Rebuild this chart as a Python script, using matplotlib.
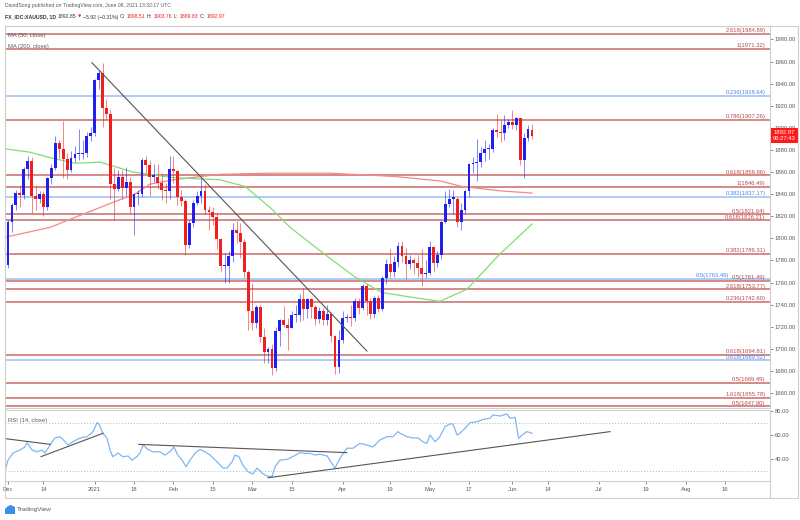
import matplotlib
matplotlib.use('Agg')
import matplotlib.pyplot as plt
from matplotlib.patches import Rectangle, Polygon
from matplotlib.transforms import offset_copy
import numpy as np

plt.rcParams['font.family'] = ['Liberation Sans', 'DejaVu Sans']

# XAUUSD daily candles, Dec 1 2020 .. Jun 8 2021 (bar index 0..133)
opens = [
    1776, 1815, 1830, 1841, 1839, 1863, 1870, 1838, 1836, 1840, 1828, 1855, 1864, 1886, 1881, 1872, 1862, 1873, 1876, 1876, 1877, 1893,
    1895, 1943, 1950, 1918, 1913, 1849, 1845, 1856, 1846, 1851, 1828, 1840, 1840, 1871, 1866, 1856, 1856, 1850, 1844, 1843,
    1863, 1861, 1837, 1834, 1794, 1814, 1832, 1838, 1843, 1826, 1824, 1819, 1799, 1775, 1775, 1784, 1808, 1805, 1797, 1770,
    1734, 1723, 1738, 1711, 1697, 1700, 1683, 1716, 1726, 1722, 1719, 1731, 1731, 1745, 1736, 1745, 1738, 1727, 1734, 1726, 1732, 1712, 1684,
    1708, 1728, 1729, 1728, 1743, 1737, 1757, 1743, 1732, 1746, 1736, 1764, 1777, 1770, 1779, 1793, 1784, 1777, 1780, 1778, 1773, 1768,
    1769, 1792, 1778, 1785, 1815, 1831, 1836, 1836, 1815, 1826, 1843, 1867, 1868, 1869, 1877, 1881, 1881, 1898, 1896, 1895, 1903,
    1905, 1903, 1909, 1871, 1891, 1898.51]
highs = [
    1817, 1832, 1844, 1848, 1865, 1875, 1874, 1848, 1843, 1843, 1856, 1867, 1893, 1889, 1906, 1877, 1879, 1884, 1899, 1889, 1896, 1901,
    1944, 1952, 1959, 1926, 1917, 1864, 1862, 1862, 1865, 1856, 1841, 1844, 1873, 1875, 1871, 1867, 1867, 1859, 1850, 1875,
    1875, 1862, 1844, 1836, 1817, 1835, 1843, 1855, 1849, 1829, 1828, 1823, 1800, 1787, 1789, 1814, 1816, 1814, 1799, 1771,
    1760, 1740, 1740, 1719, 1702, 1704, 1720, 1727, 1739, 1728, 1734, 1740, 1750, 1755, 1746, 1746, 1740, 1738, 1737, 1740, 1733, 1713, 1717,
    1734, 1732, 1740, 1746, 1746, 1759, 1759, 1746, 1748, 1749, 1766, 1781, 1790, 1784, 1797, 1798, 1791, 1785, 1782, 1785, 1790, 1780,
    1798, 1793, 1789, 1817, 1843, 1845, 1844, 1837, 1832, 1845, 1868, 1874, 1890, 1883, 1889, 1885, 1900, 1913, 1907, 1912, 1908,
    1916, 1910, 1909, 1895, 1903, 1903.76]
lows = [
    1773, 1806, 1826, 1828, 1836, 1854, 1823, 1826, 1832, 1820, 1826, 1849, 1862, 1873, 1855, 1854, 1860, 1869, 1871, 1872, 1874, 1888,
    1893, 1935, 1901, 1908, 1836, 1817, 1843, 1836, 1838, 1823, 1803, 1830, 1837, 1859, 1838, 1851, 1845, 1835, 1832, 1836,
    1850, 1830, 1829, 1785, 1791, 1810, 1830, 1832, 1822, 1808, 1812, 1790, 1770, 1760, 1760, 1779, 1796, 1782, 1764, 1717,
    1717, 1719, 1706, 1687, 1687, 1676, 1680, 1703, 1720, 1699, 1719, 1724, 1725, 1726, 1728, 1728, 1722, 1723, 1722, 1722, 1706, 1677, 1678,
    1705, 1724, 1721, 1725, 1732, 1735, 1731, 1727, 1728, 1733, 1734, 1759, 1764, 1765, 1774, 1779, 1763, 1772, 1768, 1765, 1757, 1764,
    1767, 1770, 1774, 1781, 1814, 1828, 1822, 1810, 1808, 1822, 1837, 1859, 1852, 1865, 1870, 1872, 1878, 1892, 1887, 1889, 1900,
    1899, 1898, 1866, 1855, 1888, 1889.83]
closes = [
    1815, 1830, 1841, 1839, 1863, 1870, 1838, 1836, 1840, 1828, 1855, 1864, 1886, 1881, 1872, 1862, 1873, 1876, 1876, 1877, 1893, 1895,
    1943, 1950, 1918, 1913, 1849, 1845, 1856, 1846, 1851, 1828, 1840, 1840, 1871, 1866, 1856, 1856, 1850, 1844, 1843, 1863,
    1861, 1837, 1834, 1794, 1814, 1832, 1838, 1843, 1826, 1824, 1819, 1799, 1775, 1775, 1784, 1808, 1805, 1797, 1770, 1734,
    1723, 1738, 1711, 1697, 1700, 1683, 1716, 1726, 1722, 1719, 1731, 1731, 1745, 1736, 1745, 1738, 1727, 1734, 1726, 1732, 1712, 1684, 1708,
    1728, 1729, 1728, 1743, 1737, 1757, 1743, 1732, 1746, 1736, 1764, 1777, 1770, 1779, 1793, 1784, 1777, 1780, 1778, 1773, 1768, 1769,
    1792, 1778, 1785, 1815, 1831, 1836, 1836, 1815, 1826, 1843, 1867, 1868, 1869, 1877, 1881, 1881, 1898, 1896, 1895, 1903, 1905,
    1903, 1909, 1871, 1891, 1899, 1892.97]

# moving averages (bar index, price)
ma50_x = [-0.8, 5.6, 10.7, 17, 23.4, 31.7, 41.9, 53.8, 60.2, 66.5, 71.6, 76.6, 81.7, 88.1, 94.9, 102, 109.6, 116.5, 124.9, 133]
ma50_y = [1881, 1878, 1873, 1868, 1869, 1860, 1855, 1853, 1847, 1828, 1810, 1796, 1782, 1765, 1751, 1747, 1743, 1754, 1786, 1813]
ma200_x = [-0.8, 10.7, 17, 23.4, 28.4, 32.2, 36, 41.9, 53.8, 66.5, 81.7, 98.2, 109.6, 115.2, 124.9, 133]
ma200_y = [1801, 1810, 1819, 1828, 1835, 1840, 1849, 1853, 1858, 1859, 1859, 1856, 1852, 1847, 1843, 1841]

# RSI(14)
rsi_x = [-0.8, 0, 1.3, 3.0, 4.3, 4.8, 6.1, 7.4, 8.6, 9.4, 10.7, 11.9, 13.2, 14.5, 15.2, 16.5, 18.3, 20.1, 21.6, 22.6,
         23.1, 24.1, 25.1, 25.9, 26.6, 27.9, 29.2, 30.5, 31.5, 32.7, 33.5, 34.3, 35.5, 36.8, 38.6, 39.8, 41.1, 42.1,
         43.1, 44.2, 45.2, 46.2, 47.5, 48.7, 50.0, 51.3, 53.0, 54.6, 55.6, 56.9, 57.6, 58.6, 59.6, 60.9, 62.2, 63.2,
         64.5, 65.7, 67.0, 67.8, 69.0, 70.8, 72.3, 74.1, 75.4, 76.6, 77.9, 79.2, 81.0, 82.2, 83.0, 84.3, 86.0, 87.6,
         89.3, 91.1, 92.6, 94.4, 96.2, 97.7, 99.0, 99.5, 101.3, 102.8, 104.1, 105.3, 106.3, 107.1, 108.4, 109.6, 110.9,
         112.2, 112.9, 114.0, 114.7, 116.0, 117.3, 119.0, 120.6, 122.3, 123.1, 124.9, 126.6, 127.4, 128.7, 129.6, 130.5,
         131.7, 133.0]
rsi_vals = [29.4, 39, 45, 47.5, 50, 53.6, 47.5, 46, 47.5, 45, 51.7, 57.5, 58.6, 54.4, 51.7, 54.4, 57.5, 58.6, 62.8, 70.3,
            69, 61.4, 57.5, 47.5, 41.9, 45, 41.9, 42.5, 39, 42, 45, 51.7, 48, 46, 46, 43.3, 46, 50,
            43.3, 39, 33.6, 39, 45, 48, 46, 43.3, 37.8, 32.5, 32.5, 37.8, 43.3, 42, 35, 29.4, 27.5, 32.5,
            28.3, 25.8, 25.3, 33.6, 39, 39.7, 42, 45.3, 44.7, 44.7, 43.3, 44, 42.5, 36.4, 32.5, 40.8, 49, 49,
            53, 51.7, 50, 55.8, 58.6, 58.6, 62.8, 61.4, 58.6, 57.5, 57.5, 54.4, 53, 60, 54.4, 58.6, 66.9,
            69.2, 69.2, 60, 61.4, 65.6, 70.3, 71, 73, 73.9, 76.7, 75.8, 77.5, 73.9, 74.7, 57.2, 60,
            62.8, 61.4]

# fibonacci levels drawn on the chart
fib_labels = ['2.618(1984.89)', '1(1971.32)', '0.236(1928.64)', '0.786(1907.26)', '0.618(1856.96)', '1(1846.49)',
              '0.382(1837.17)', '0.5(1821.64)', '0.618(1816.21)', '0.382(1786.31)', '0.5(1763.49)', '0.5(1761.49)',
              '2.618(1753.77)', '0.236(1742.60)', '0.618(1694.81)', '0.618(1689.52)', '0.5(1669.49)',
              '1.618(1655.78)', '0.5(1647.90)']
fib_values = [1984.89, 1971.32, 1928.64, 1907.26, 1856.96, 1846.49, 1837.17, 1821.64, 1816.21, 1786.31, 1763.49,
              1761.49, 1753.77, 1742.60, 1694.81, 1689.52, 1669.49, 1655.78, 1647.90]
fib_kind = ['r', 'r', 'b', 'r', 'r', 'r', 'b', 'r', 'r', 'r', 'b', 'r', 'r', 'r', 'r', 'b', 'r', 'r', 'r']

# hand drawn trendlines (bar index, value)
price_trend = [(21.3, 1959), (91.1, 1698)]
rsi_trends = [[(-0.8, 57), (10.7, 52.2)], [(8.4, 42), (24.1, 61.4)],
              [(33.2, 52.2), (86.0, 45.3)], [(66.0, 24.4), (152.8, 62.8)]]

tick_pos = [0, 9, 22, 32, 42, 52, 62, 72, 85, 97, 107, 117, 128, 137, 150, 162, 172, 182]
tick_labels = ['Dec', '14', '2021', '18', 'Feb', '15', 'Mar', '15', 'Apr', '19', 'May', '17', 'Jun', '14',
               'Jul', '19', 'Aug', '16']

# header legend pieces
header_parts = [('FX_IDC:XAUUSD, 1D', 'bold'), ('1892.85', ''), ('\u25bc', 'red'), ('\u22125.92 (\u22120.31%)', ''),
                ('O:', ''), ('1898.51', 'red'), ('H:', ''), ('1903.76', 'red'), ('L:', ''), ('1889.83', 'red'),
                ('C:', ''), ('1892.97', 'red')]

W, H = 800, 520
UP, DOWN = '#1f1ff0', '#f01f1f'
FIB_COL = {'r': '#cc6a6a', 'b': '#9dbdf2'}
FIB_TXT = {'r': '#b84a4a', 'b': '#4f86e8'}
GRAY = '#5a5a5a'
EDGE = '#cfcfcf'
FS = 4.2
HFS = 3.7


def fig_box(l, t, r, b):
    return [l / W, 1 - b / H, (r - l) / W, (b - t) / H]


fig = plt.figure(figsize=(W / 100, H / 100), dpi=100)
ax = fig.add_axes(fig_box(5, 26, 770, 408))
rx = fig.add_axes(fig_box(5, 410, 770, 481), sharex=ax)
renderer = fig.canvas.get_renderer()

o = np.array(opens); h = np.array(highs); l = np.array(lows); c = np.array(closes)
x = np.arange(len(c))
up = c >= o
cols = np.where(up, UP, DOWN)

ax.set_xlim(-0.76, 193.4)
ax.set_ylim(1646.5, 1992.2)

# fib levels first so candles sit on top; a label whose level nearly touches the
# next one is pushed left so the two don't sit on each other
ytr = ax.get_yaxis_transform()
for i, (lab, v, k) in enumerate(zip(fib_labels, fib_values, fib_kind)):
    ax.axhline(v, color=FIB_COL[k], lw=1.3, alpha=0.85, zorder=1)
    tr = ytr
    if i + 1 < len(fib_values) and v - fib_values[i + 1] < 3:
        tr = offset_copy(ytr, fig=fig, x=-36, y=0, units='dots')
    ax.text(0.994, v + 0.8, lab, transform=tr, ha='right', va='bottom', fontsize=FS, color=FIB_TXT[k], zorder=2)

ax.plot(ma200_x, ma200_y, color='#f08a8a', lw=0.9, zorder=2)
ax.plot(ma50_x, ma50_y, color='#82de72', lw=0.9, zorder=2)

ax.vlines(x, l, h, colors=cols, lw=0.7, alpha=0.55, zorder=3)
ax.bar(x, np.maximum(np.abs(c - o), 1.0), bottom=np.minimum(o, c), width=0.72, color=cols, lw=0, zorder=4)

(tx0, ty0), (tx1, ty1) = price_trend
ax.plot([tx0, tx1], [ty0, ty1], color='#555555', lw=0.8, zorder=5)

ax.yaxis.tick_right()
ax.set_yticks(np.arange(1660, 1981, 20))
ax.set_yticklabels([f'{v:.2f}' for v in np.arange(1660, 1981, 20)])
ax.tick_params(axis='y', labelsize=FS, colors=GRAY, length=2, pad=1.5, width=0.5)
ax.tick_params(axis='x', length=0, labelbottom=False)

# last price tag
ax.text(1.004, closes[-1], f'{closes[-1]:.2f}\n06:27:43', transform=ytr,
        ha='left', va='center', fontsize=FS, color='white', linespacing=1.3, zorder=10, clip_on=False,
        bbox=dict(boxstyle='square,pad=0.35', fc='#ff1a1a', ec='none'))

ax.text(0.004, 0.975, 'MA (50, close)', transform=ax.transAxes, fontsize=FS, color=GRAY, va='center')
ax.text(0.004, 0.947, 'MA (200, close)', transform=ax.transAxes, fontsize=FS, color=GRAY, va='center')

# RSI pane
rx.plot(rsi_x, rsi_vals, color='#7db7f5', lw=0.9, zorder=3)
for (a0, b0), (a1, b1) in rsi_trends:
    rx.plot([a0, a1], [b0, b1], color='#555555', lw=0.8, zorder=4)
rx.axhline(70, color='#b5b5b5', lw=0.7, ls=(0, (1, 2)))
rx.axhline(30, color='#b5b5b5', lw=0.7, ls=(0, (1, 2)))
rx.set_ylim(21.7, 80.8)
rx.yaxis.tick_right()
rx.set_yticks([40, 60, 80])
rx.set_yticklabels(['40.00', '60.00', '80.00'])
rx.tick_params(axis='y', labelsize=FS, colors=GRAY, length=2, pad=1.5, width=0.5)
rx.set_xticks(tick_pos)
rx.set_xticklabels(tick_labels)
rx.tick_params(axis='x', labelsize=FS, colors=GRAY, length=2, pad=2.5, width=0.5)
rx.text(0.004, 0.85, 'RSI (14, close)', transform=rx.transAxes, fontsize=FS, color=GRAY, va='center')

for a in (ax, rx):
    for s in a.spines.values():
        s.set_color(EDGE)
        s.set_linewidth(0.8)

# outer frame around chart + scales
fig.add_artist(Rectangle((5 / W, 1 - 498 / H), 793 / W, 472 / H, transform=fig.transFigure,
                         fill=False, ec=EDGE, lw=0.8))
fig.add_artist(plt.Line2D([770 / W, 770 / W], [1 - 498 / H, 1 - 481 / H], transform=fig.transFigure,
                          color=EDGE, lw=0.8))

# header
fig.text(5 / W, 1 - 6 / H, 'DavidSong published on TradingView.com, June 08, 2021 13:32:17 UTC',
         fontsize=HFS, color=GRAY, va='center')
hx, hy = 5.0, 1 - 17 / H
for txt, kind in header_parts:
    kw = dict(fontsize=HFS, va='center', color='#e81f1f' if kind == 'red' else '#333333')
    if kind == 'bold':
        kw['weight'] = 'bold'
    if txt == '\u25bc':
        kw['family'] = 'DejaVu Sans'
        kw['fontsize'] = HFS - 0.6
    t = fig.text(hx / W, hy, txt, **kw)
    hx += t.get_window_extent(renderer).width + 1.6

# TradingView logo
fig.add_artist(Polygon([(5 / W, 1 - 514 / H), (15 / W, 1 - 514 / H), (15 / W, 1 - 507 / H),
                        (11 / W, 1 - 505 / H), (8 / W, 1 - 506 / H), (5 / W, 1 - 509 / H)],
                       closed=True, transform=fig.transFigure, fc='#3d8ee8', ec='none'))
fig.text(17 / W, 1 - 510 / H, 'TradingView', fontsize=FS + 0.4, color=GRAY, va='center')

fig.savefig('out.png', dpi=100, facecolor='white')
